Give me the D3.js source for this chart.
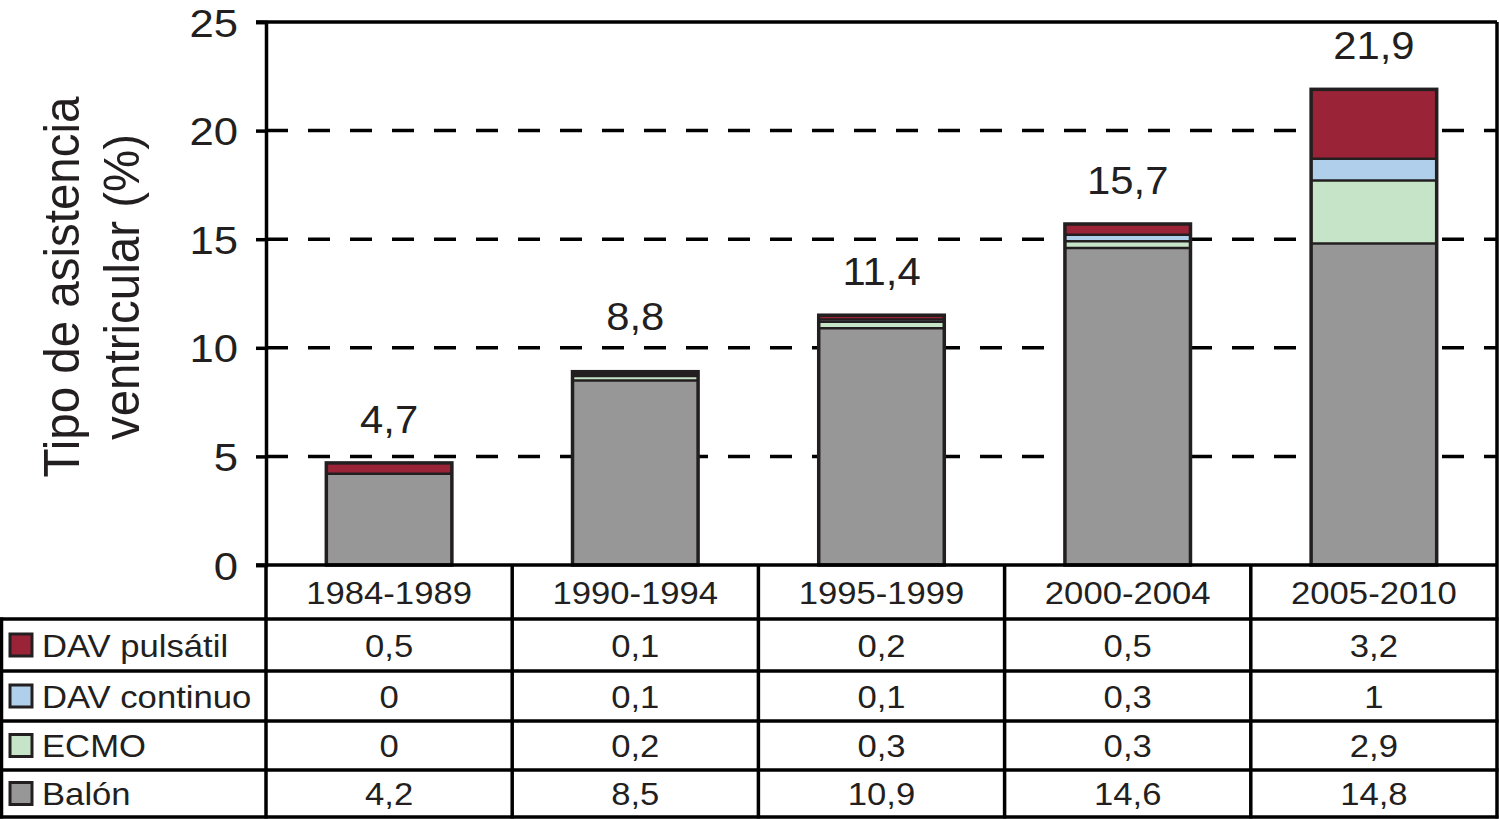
<!DOCTYPE html>
<html>
<head>
<meta charset="utf-8">
<script src="https://cdn.jsdelivr.net/npm/d3@7"></script>
<style>
  html, body { margin: 0; padding: 0; background: #fff; }
  svg { display: block; font-family: "Liberation Sans", Arial, Helvetica, sans-serif; }
</style>
</head>
<body>
<svg id="chart" width="1499" height="819"></svg>
<script>
// ---- Data ----
const periods = ["1984-1989", "1990-1994", "1995-1999", "2000-2004", "2005-2010"];
const seriesNames = ["DAV pulsátil", "DAV continuo", "ECMO", "Balón"];
const davPulsatil = [0.5, 0.1, 0.2, 0.5, 3.2];
const davContinuo = [0, 0.1, 0.1, 0.3, 1];
const ecmo = [0, 0.2, 0.3, 0.3, 2.9];
const balon = [4.2, 8.5, 10.9, 14.6, 14.8];
const totals = [4.7, 8.8, 11.4, 15.7, 21.9];
const yTicks = [0, 5, 10, 15, 20, 25];
const colors = { "DAV pulsátil": "#9a2337", "DAV continuo": "#b0cfeb", "ECMO": "#c6e4c7", "Balón": "#979797" };

const seriesValues = { "DAV pulsátil": davPulsatil, "DAV continuo": davContinuo, "ECMO": ecmo, "Balón": balon };
const fmt = v => String(v).replace(".", ",");

// ---- Layout ----
const svg = d3.select("#chart");
const ink = "#231f20";
const SX = 1.1; // horizontal glyph stretch of the original typeface
const plotLeft = 266, plotRight = 1497, plotTop = 22, plotBottom = 565;
const tableLeft = 1.5;
const rowEdges = [565, 619, 671, 721, 770, 817];

const x = d3.scaleBand().domain(periods).range([plotLeft, plotRight]).paddingInner(0).paddingOuter(0);
const y = d3.scaleLinear().domain([0, 25]).range([plotBottom, plotTop]);
const barW = x.bandwidth() * 0.51;

function addText(parent, tx, ty, str, size, anchor, sx) {
  return parent.append("text")
    .attr("transform", `translate(${tx},${ty}) scale(${sx || SX},1)`)
    .attr("text-anchor", anchor || "middle")
    .attr("font-size", size).attr("fill", ink)
    .text(str);
}

// Gridlines (dashed)
const gridVals = yTicks.filter(t => t > 0 && t < 25);
svg.append("g").selectAll("line").data(gridVals).join("line")
  .attr("x1", plotLeft).attr("x2", plotRight)
  .attr("y1", d => y(d)).attr("y2", d => y(d))
  .attr("stroke", "#000").attr("stroke-width", 3.5)
  .attr("stroke-dasharray", "22,20");

// Stacked bars
const stackOrder = ["Balón", "ECMO", "DAV continuo", "DAV pulsátil"];
const rows = periods.map((p, i) => {
  const o = { period: p };
  seriesNames.forEach(s => o[s] = seriesValues[s][i]);
  return o;
});
const stacked = d3.stack().keys(stackOrder)(rows);
const barG = svg.append("g");
const bx = p => x(p) + (x.bandwidth() - barW) / 2;
stacked.forEach(layer => {
  const segs = layer.filter(d => d[1] - d[0] > 0);
  barG.append("g").selectAll("rect").data(segs).join("rect")
    .attr("x", d => bx(d.data.period))
    .attr("width", barW)
    .attr("y", d => y(d[1]))
    .attr("height", d => y(d[0]) - y(d[1]))
    .attr("fill", colors[layer.key]);
});
// segment separators
stacked.slice(0, -1).forEach(layer => {
  barG.append("g").selectAll("line").data(layer.filter(d => d[1] - d[0] > 0)).join("line")
    .attr("x1", d => bx(d.data.period)).attr("x2", d => bx(d.data.period) + barW)
    .attr("y1", d => y(d[1])).attr("y2", d => y(d[1]))
    .attr("stroke", ink).attr("stroke-width", 2.5);
});
// outer outline
barG.append("g").selectAll("rect").data(rows).join("rect")
  .attr("x", d => bx(d.period)).attr("width", barW)
  .attr("y", d => y(d3.sum(stackOrder, k => d[k])))
  .attr("height", d => y(0) - y(d3.sum(stackOrder, k => d[k])))
  .attr("fill", "none").attr("stroke", ink).attr("stroke-width", 3.5);

// Total labels (kept clear of the dashed gridlines)
const lblG = svg.append("g");
periods.forEach((p, i) => {
  const top = y(d3.sum(seriesNames, s => seriesValues[s][i]));
  let base = top - 30;
  gridVals.forEach(g => {
    const gy = y(g);
    if (base > gy - 14 && base < gy + 30) base = gy - 18;
  });
  addText(lblG, x(p) + x.bandwidth() / 2, base, fmt(totals[i]), 38, "middle");
});

// Frame: top and right border
svg.append("line").attr("x1", 256).attr("x2", plotRight).attr("y1", plotTop).attr("y2", plotTop)
  .attr("stroke", "#000").attr("stroke-width", 3.5);
svg.append("line").attr("x1", plotRight).attr("x2", plotRight).attr("y1", plotTop).attr("y2", plotBottom)
  .attr("stroke", "#000").attr("stroke-width", 3.5);

// Y axis
const yAxis = d3.axisLeft(y).tickValues(yTicks).tickSize(10).tickPadding(18).tickFormat(d => d);
const yg = svg.append("g").attr("transform", `translate(${plotLeft},0)`).call(yAxis);
yg.select(".domain").attr("stroke", "#000").attr("stroke-width", 3.5);
yg.selectAll(".tick line").attr("stroke", "#000").attr("stroke-width", 3.5);
yg.selectAll(".tick text")
  .attr("font-size", 39).attr("fill", ink)
  .attr("font-family", "'Liberation Sans', Arial, sans-serif")
  .attr("x", -28 / 1.12).attr("dy", "0.36em")
  .attr("transform", "scale(1.12,1)");

// Y title
const yt = svg.append("text").attr("transform", "translate(2,287) rotate(-90) scale(1,1.05)")
  .attr("text-anchor", "middle").attr("font-size", 47.5).attr("fill", ink);
yt.append("tspan").attr("x", 0).attr("y", 77 / 1.05).text("Tipo de asistencia");
yt.append("tspan").attr("x", 0).attr("y", 137 / 1.05).text("ventricular (%)");

// ---- Data table ----
const tg = svg.append("g");
const lineAttrs = sel => sel.attr("stroke", "#000").attr("stroke-width", 3.5);
tg.append("line").attr("x1", 256).attr("x2", plotRight).attr("y1", rowEdges[0]).attr("y2", rowEdges[0]).call(lineAttrs);
rowEdges.slice(1).forEach(ry => {
  tg.append("line").attr("x1", 0).attr("x2", plotRight + 1.5).attr("y1", ry).attr("y2", ry).call(lineAttrs);
});
const colEdges = periods.map(p => x(p)).concat([plotRight]);
colEdges.forEach(cx => {
  tg.append("line").attr("x1", cx).attr("x2", cx).attr("y1", rowEdges[0]).attr("y2", rowEdges[5] + 1.5).call(lineAttrs);
});
tg.append("line").attr("x1", tableLeft).attr("x2", tableLeft).attr("y1", rowEdges[1] - 1.5).attr("y2", rowEdges[5] + 1.5).call(lineAttrs);

const TFS = 31.5;
// Header texts
periods.forEach(p => {
  addText(tg, x(p) + x.bandwidth() / 2, (rowEdges[0] + rowEdges[1]) / 2 + 11.5, p, TFS, "middle");
});

// Series rows
seriesNames.forEach((s, r) => {
  const cy = (rowEdges[r + 1] + rowEdges[r + 2]) / 2;
  tg.append("rect").attr("x", 10).attr("y", cy - 11).attr("width", 22).attr("height", 22)
    .attr("fill", colors[s]).attr("stroke", ink).attr("stroke-width", 3);
  addText(tg, 42, cy + 11.5, s, TFS, "start");
  periods.forEach((p, i) => {
    addText(tg, x(p) + x.bandwidth() / 2, cy + 11.5, fmt(seriesValues[s][i]), TFS, "middle");
  });
});
</script>
</body>
</html>
